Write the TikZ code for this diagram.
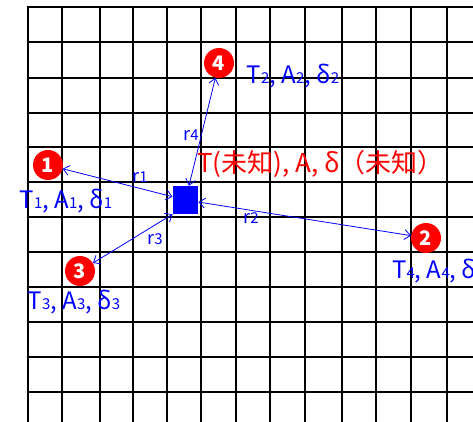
\documentclass[tikz,border=0pt]{standalone}
\usepackage{fontspec}
\setmainfont{Noto Sans CJK JP}
\usetikzlibrary{arrows.meta}
\usetikzlibrary{positioning}

\newcommand{\lo}[1]{{\fontsize{15}{15}\selectfont #1}}

\begin{document}
\begin{tikzpicture}[x=1pt,y=-1pt,
    srcpt/.style={circle,fill=red,minimum size=30pt,inner sep=0pt,
      text=white,font=\fontsize{20}{20}\selectfont\bfseries},
    lab/.style={text=blue,font=\fontsize{24}{24}\selectfont,inner sep=0pt},
    rlab/.style={text=blue,font=\fontsize{18}{18}\selectfont,inner sep=0pt},
    dist/.style={{Straight Barb[length=6pt,width=10pt]}-{Straight Barb[length=6pt,width=10pt]},
      blue,line width=0.8pt}]
  \useasboundingbox (0,0) rectangle (473,422);

  % Grille
  \foreach \x in {28,62,100,133,167,201,236,270,305,342,376,411,447}
    \draw[line width=1.4pt] (\x,6.3) -- (\x,422);
  \foreach \y in {7,42,78,113,147,182,217,252,287,322,357,392}
    \draw[line width=1.4pt] (27.3,\y) -- (473,\y);

  % Point inconnu
  \node[fill=blue,minimum width=25.5pt,minimum height=28pt,inner sep=0pt] (sq) at (185.5,200) {};
  \node[text=red,font=\fontsize{26}{26}\selectfont,inner sep=0pt,anchor=west] (unk) at (197,164)
    {T(未知), A, δ（未知）};

  % Points connus
  \node[srcpt] (p1) at (48,165) {1};
  \node[srcpt] (p2) at (426,238) {2};
  \node[srcpt] (p3) at (80,271) {3};
  \node[srcpt] (p4) at (219,63) {4};

  \node[lab] (t1) at (66,201) {T\lo{1}, A\lo{1}, δ\lo{1}};
  \node[lab] (t2) at (293,76) {T\lo{2}, A\lo{2}, δ\lo{2}};
  \node[lab] (t3) at (74,302) {T\lo{3}, A\lo{3}, δ\lo{3}};
  \node[lab,anchor=west] (t4) at (392,271) {T\lo{4}, A\lo{4}, δ\lo{4}};

  % Distances
  \draw[dist] (p1) -- (sq);
  \draw[dist] (sq) -- (p2);
  \draw[dist] (sq.south west) -- (p3);
  \draw[dist] (p4) -- (sq);

  \node[rlab] (r1) at (140,177) {r\lo{1}};
  \node[rlab] (r2) at (251,218) {r\lo{2}};
  \node[rlab] (r3) at (155,239) {r\lo{3}};
  \node[rlab] (r4) at (191,135) {r\lo{4}};

\end{tikzpicture}
\end{document}
